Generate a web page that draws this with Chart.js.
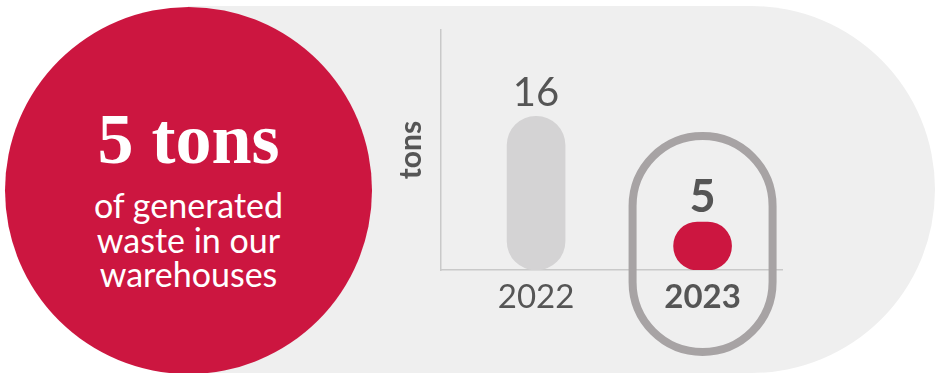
<!DOCTYPE html>
<html>
<head>
<meta charset="utf-8">
<script src="https://cdn.jsdelivr.net/npm/chart.js@4"></script>
<style>
  html, body { margin: 0; padding: 0; background: #ffffff; }
  #wrap { position: relative; width: 935px; height: 373px; overflow: hidden; }
  #pill { position: absolute; left: 188px; top: 6px; width: 747px; height: 367px;
          background: #efefef; border-radius: 0 184px 184px 0; }
  #circle { position: absolute; left: 5px; top: 7px; width: 367px; height: 367px;
            border-radius: 50%; background: #cc1640; }
  .txt { position: absolute; left: 5px; width: 367px; text-align: center; color: #ffffff; }
  #big { top: 103px; font-family: "Liberation Serif", serif; font-weight: bold;
         font-size: 72px; line-height: 72px; }
  #sub { top: 188px; font-family: Lato, sans-serif; font-size: 34px; line-height: 34.5px; }
  #chart { position: absolute; left: 0; top: 0; }
</style>
</head>
<body>
<div id="wrap">
  <div id="pill"></div>
  <div id="circle"></div>
  <div class="txt" id="big">5 tons</div>
  <div class="txt" id="sub">of generated<br>waste in our<br>warehouses</div>
  <canvas id="chart" width="935" height="373"></canvas>
</div>
<script>
// Data
const categories = ['2022', '2023'];
const wasteTons = [16, 5];
const barColors = ['#d4d3d4', '#cc1640'];
const highlightIndex = 1;

document.addEventListener('DOMContentLoaded', function () {
    const textGrey = '#555555';

    // value labels above the bars
    const valueLabels = {
        id: 'valueLabels',
        afterDatasetsDraw(chart) {
            const ctx = chart.ctx;
            const meta = chart.getDatasetMeta(0);
            ctx.save();
            ctx.fillStyle = textGrey;
            ctx.textAlign = 'center';
            ctx.textBaseline = 'alphabetic';
            meta.data.forEach((bar, i) => {
                const bold = i === highlightIndex;
                ctx.font = (bold ? 'bold 45px' : '40px') + ' Lato';
                ctx.fillText(String(wasteTons[i]), bar.x, bar.y - 10);
            });
            ctx.restore();
        }
    };

    // outline round the highlighted year
    const highlightOutline = {
        id: 'highlightOutline',
        afterDraw(chart) {
            const ctx = chart.ctx;
            const x = chart.scales.x.getPixelForValue(highlightIndex);
            const bottom = chart.chartArea.bottom;
            const w = 140, top = bottom - 134, h = 216;
            ctx.save();
            ctx.strokeStyle = '#a7a3a4';
            ctx.lineWidth = 8;
            ctx.beginPath();
            ctx.roundRect(x - w / 2, top, w, h, w / 2);
            ctx.stroke();
            ctx.restore();
        }
    };

    const chartContext = document.getElementById('chart').getContext('2d');
    new Chart(chartContext, {
        type: 'bar',
        data: {
            datasets: [{
                data: wasteTons.map((v, i) => ({ x: i, y: v })),
                backgroundColor: barColors,
                borderRadius: 40,
                borderSkipped: false,
                barThickness: 58,
            }],
        },
        options: {
            responsive: false,
            animation: false,
            devicePixelRatio: 1,
            layout: { padding: { left: 393, right: 153, top: 30, bottom: 53 } },
            plugins: { legend: { display: false }, tooltip: { enabled: false } },
            scales: {
                x: {
                    type: 'linear',
                    offset: false,
                    min: -0.571,
                    max: 1.477,
                    afterBuildTicks: s => { s.ticks = categories.map((c, i) => ({ value: i })); },
                    afterFit: s => { s.height = 50; },
                    grid: { display: false, drawTicks: false, offset: false },
                    border: { display: true, color: '#c9c9c9', width: 1.5 },
                    ticks: {
                        padding: 8,
                        color: textGrey,
                        autoSkip: false,
                        maxRotation: 0,
                        callback: v => categories[v],
                        font: ctx => ({ family: 'Lato', size: 33,
                            weight: ctx.index === highlightIndex ? 'bold' : 'normal' }),
                    },
                },
                y: {
                    min: 0,
                    max: 25,
                    afterFit: s => { s.width = 48; },
                    grid: { display: false, drawTicks: false },
                    border: { display: true, color: '#c9c9c9', width: 1.5 },
                    ticks: { display: false },
                    title: {
                        display: true,
                        text: 'tons',
                        color: textGrey,
                        padding: 0,
                        font: { family: 'Lato', size: 30, weight: 'bold' },
                    },
                },
            },
        },
        plugins: [valueLabels, highlightOutline],
    });
});
</script>
</body>
</html>
